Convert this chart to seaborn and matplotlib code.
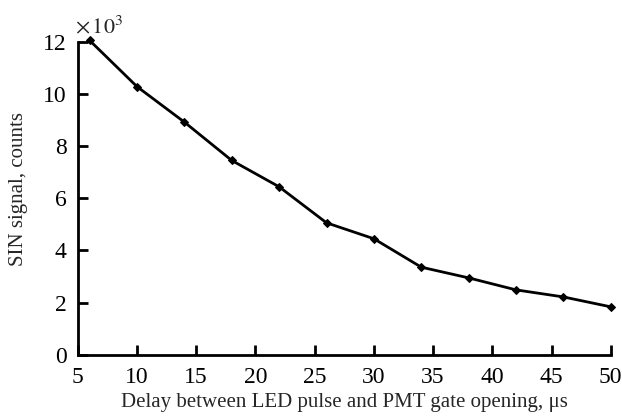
import numpy as np
import pandas as pd
import seaborn as sns
import matplotlib
matplotlib.use('Agg')
import matplotlib.pyplot as plt

# delay (us) and SIN signal (x10^3 counts)
delay = [6, 10, 14, 18, 22, 26, 30, 34, 38, 42, 46, 50]
signal = [12.05, 10.28, 8.92, 7.45, 6.44, 5.06, 4.45, 3.36, 2.95, 2.49, 2.22, 1.84]
xticks = [5, 10, 15, 20, 25, 30, 35, 40, 45, 50]
yticks = [0, 2, 4, 6, 8, 10, 12]

sns.set_style('ticks')
plt.rcParams['font.family'] = ['Liberation Serif', 'DejaVu Serif']
plt.rcParams['mathtext.fontset'] = 'stix'

df = pd.DataFrame({'delay': delay, 'signal': signal})

fig = plt.figure(figsize=(6.22, 4.17), dpi=100)
ax = fig.add_axes([0.125, 0.149, 0.857, 0.751])
sns.lineplot(data=df, x='delay', y='signal', ax=ax, color='black',
             linewidth=2, marker='D', markersize=4, markeredgecolor='black',
             clip_on=False)

ax.set_xlim(5, 50)
ax.set_ylim(0, 12)
ax.set_xticks(xticks)
ax.set_yticks(yticks)
ax.tick_params(direction='in', length=7, width=2, labelsize=17, colors='black')
ax.tick_params(axis='y', pad=8)
ax.tick_params(axis='x', pad=9)
sns.despine(ax=ax)
for s in ['left', 'bottom']:
    ax.spines[s].set_linewidth(2)
    ax.spines[s].set_color('black')
ax.set_xlabel('Delay between LED pulse and PMT gate opening, \u03bcs', fontsize=15, labelpad=3)
ax.set_ylabel('SIN signal, counts', fontsize=15)
ax.yaxis.set_label_coords(-0.093, 0.53)
ax.text(-0.005, 1.01, r'$\times\,10^3$', transform=ax.transAxes, fontsize=16, va='bottom')

fig.savefig('out.png', dpi=100)
